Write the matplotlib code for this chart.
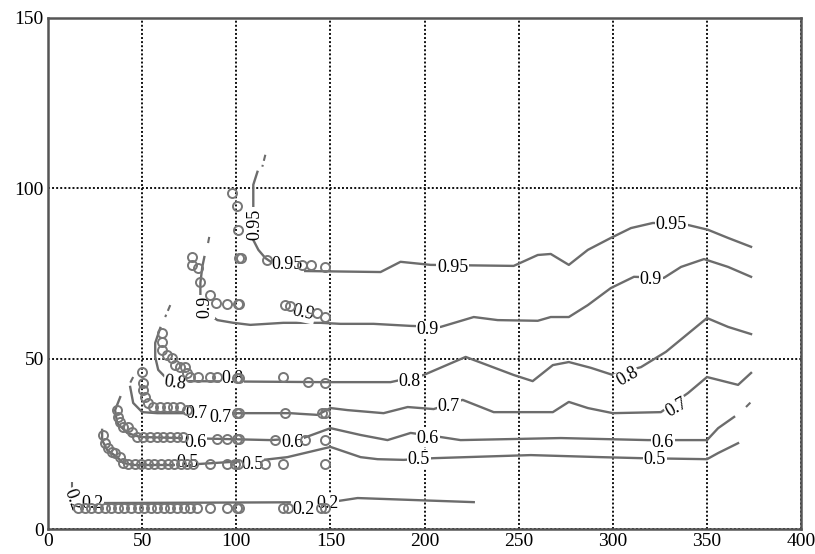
import matplotlib.pyplot as plt

plt.rcParams['font.family'] = ['Liberation Serif', 'DejaVu Serif']

# contour lines (x, y)
c95_x = [111.2, 109.0, 109.0, 111.7, 115.4, 120.7, 135.6, 176.6, 187.2, 203.2, 247.3, 260.1, 267.0,
         276.6, 286.7, 298.9, 309.6, 321.3, 339.9, 350.5, 361.2, 373.4]
c95_y = [104.8, 101.0, 84.8, 81.9, 79.5, 77.5, 75.7, 75.4, 78.4, 77.5, 77.2, 80.4, 80.7,
         77.5, 81.9, 85.4, 88.3, 89.8, 89.2, 87.8, 85.4, 82.8]
c95_top_x = [115.4, 113.8]
c95_top_y = [109.8, 106.3]

c90_x = [83.0, 81.9, 80.9, 80.9, 84.6, 89.9, 98.4, 107.4, 125.0, 144.7, 155.3, 172.9, 192.6, 208.5,
         226.1, 238.8, 260.1, 267.0, 276.6, 286.7, 298.9, 311.2, 327.1, 336.2, 348.4, 361.2, 373.4]
c90_y = [79.8, 76.9, 72.2, 67.2, 63.4, 61.3, 60.5, 59.9, 60.5, 60.5, 60.2, 60.2, 59.6, 59.3,
         62.2, 61.3, 61.1, 62.2, 62.2, 65.7, 70.7, 74.0, 73.7, 76.9, 79.2, 76.9, 74.0]
c90_top_x = [85.6, 84.6]
c90_top_y = [85.7, 82.8]

c80_x = [59.6, 56.9, 56.9, 58.5, 62.2, 73.9, 146.3, 181.9, 199.5, 221.8, 247.3, 257.4, 268.1,
         276.6, 288.3, 300.0, 314.9, 328.2, 350.0, 361.2, 373.4]
c80_y = [59.0, 54.6, 50.5, 46.7, 44.6, 43.4, 43.1, 43.1, 45.2, 50.5, 45.2, 43.4, 48.1,
         49.0, 47.3, 45.2, 47.5, 52.0, 61.9, 59.3, 57.2]
c80_top_x = [64.9, 62.2]
c80_top_y = [65.7, 62.2]

c70_x = [43.6, 45.2, 50.0, 58.0, 128.7, 134.0, 143.1, 150.0, 159.0, 178.2, 191.0, 204.8, 220.2,
         236.7, 268.1, 276.6, 286.7, 300.0, 325.5, 339.9, 350.0, 366.5, 373.4]
c70_y = [41.7, 37.0, 34.3, 34.0, 34.0, 33.8, 33.5, 35.5, 34.9, 34.0, 35.8, 35.2, 37.9,
         34.3, 34.3, 37.3, 35.5, 34.0, 34.3, 39.9, 44.6, 42.3, 45.8]
c70_top_x = [45.2, 43.6]
c70_top_y = [44.6, 42.9]

c60_x = [38.3, 35.6, 36.7, 42.0, 48.9, 71.8, 118.1, 135.6, 150.0, 166.0, 180.3, 192.6, 208.5,
         219.1, 272.3, 318.6, 350.0, 355.9, 364.4]
c60_y = [38.7, 34.9, 31.1, 28.2, 27.0, 26.7, 26.1, 26.7, 29.6, 27.6, 26.1, 28.2, 27.0,
         26.1, 26.7, 26.1, 26.1, 29.6, 32.9]
c60_top_x = [370.7, 373.4]
c60_top_y = [35.8, 37.3]

c50_x = [28.7, 28.7, 31.4, 36.7, 39.9, 45.2, 71.8, 114.4, 127.1, 150.0, 166.0, 175.0, 188.8,
         204.8, 256.4, 293.6, 314.9, 350.0, 355.9, 366.5]
c50_y = [29.1, 26.1, 23.2, 21.1, 19.4, 18.8, 18.8, 20.3, 21.1, 24.1, 21.1, 20.5, 20.3,
         20.8, 21.7, 21.1, 20.8, 20.5, 22.3, 25.2]

c20_x = [14.4, 150.0, 164.4, 226.1]
c20_y = [7.6, 7.9, 9.1, 7.9]
c20_top_x = [12.8, 12.8]
c20_top_y = [13.8, 11.4]

# circle markers
circ_x = [97.9, 100.5, 101.1, 101.6, 102.4, 116.5, 135.1, 139.4, 147.3,
          76.6, 76.6, 79.8, 80.9, 86.2, 89.4, 95.2, 100.8, 101.6, 126.1, 128.7, 143.1, 147.3,
          60.6, 60.6, 60.6, 63.3, 66.0, 67.6, 70.2, 72.9, 73.9, 75.5, 79.8, 86.2, 89.9, 100.5,
          101.4, 125.0, 138.3, 147.3,
          50.0, 50.5, 50.5, 51.6, 53.2, 55.9, 59.6, 63.3, 66.5, 70.2, 73.9, 100.6, 101.6,
          126.1, 145.7, 147.3,
          36.7, 37.2, 38.3, 39.9, 42.6, 44.7, 47.3, 50.5, 54.3, 58.0, 61.2, 64.9, 68.6, 71.8,
          89.9, 95.2, 100.6, 101.6, 120.7, 136.7, 147.3,
          29.3, 30.3, 31.9, 34.0, 35.6, 38.3, 39.9, 42.6, 46.0, 49.5, 53.0, 56.5, 60.0, 63.5,
          67.0, 70.5, 74.0, 77.1, 86.2, 95.2, 99.5, 101.1, 115.4, 125.0, 147.3,
          16.0, 19.5, 23.0, 26.5, 30.0, 33.5, 37.0, 40.5, 44.0, 47.5, 51.0, 54.5, 58.0, 61.5,
          65.0, 68.5, 72.0, 75.5, 79.0, 86.2, 95.2, 100.5, 101.6, 125.0, 127.7, 144.7, 147.3]
circ_y = [98.6, 94.8, 87.8, 79.5, 79.5, 79.0, 77.5, 77.5, 76.9,
          79.8, 77.5, 76.6, 72.5, 68.7, 66.3, 66.0, 66.0, 66.0, 65.7, 65.5, 63.4, 62.2,
          57.5, 54.9, 52.5, 51.1, 50.2, 48.1, 47.5, 47.5, 45.8, 44.6, 44.6, 44.6, 44.6, 44.3,
          44.3, 44.6, 43.1, 42.9,
          46.1, 42.9, 40.8, 38.7, 37.0, 35.8, 35.8, 35.8, 35.8, 35.8, 34.9, 34.0, 34.0,
          34.0, 34.0, 34.0,
          34.9, 32.9, 31.4, 30.0, 30.0, 28.5, 27.0, 27.0, 27.0, 27.0, 27.0, 27.0, 27.0, 27.0,
          26.4, 26.4, 26.4, 26.4, 26.1, 26.1, 26.1,
          27.6, 25.2, 23.8, 22.6, 22.3, 21.1, 19.4, 19.1, 19.1, 19.1, 19.1, 19.1, 19.1, 19.1,
          19.1, 19.1, 19.1, 19.1, 19.1, 19.1, 19.1, 19.1, 19.1, 19.1, 19.1,
          6.2, 6.2, 6.2, 6.2, 6.2, 6.2, 6.2, 6.2, 6.2, 6.2, 6.2, 6.2, 6.2, 6.2,
          6.2, 6.2, 6.2, 6.2, 6.2, 6.2, 6.2, 6.2, 6.2, 6.2, 6.2, 6.2, 6.2]

# contour labels: text, x, y, rotation
lab_text = ['0.95', '0.95', '0.95', '0.95',
            '0.9', '0.9', '0.9', '0.9',
            '0.8', '0.8', '0.8', '0.8',
            '0.7', '0.7', '0.7', '0.7',
            '0.6', '0.6', '0.6', '0.6',
            '0.5', '0.5', '0.5', '0.5',
            '0.2', '0.2', '0.2', '0.2']
lab_x = [110.1, 127.1, 214.9, 330.9,
         83.5, 135.6, 201.6, 320.2,
         67.6, 97.9, 192.0, 308.0,
         79.0, 91.5, 212.8, 334.0,
         78.2, 129.8, 201.6, 326.6,
         73.9, 108.5, 196.8, 322.3,
         12.8, 23.4, 135.6, 148.4]
lab_y = [89.5, 77.5, 76.6, 89.2,
         65.2, 63.4, 58.4, 73.1,
         42.9, 44.3, 43.4, 44.6,
         34.0, 32.6, 36.1, 35.5,
         25.5, 25.5, 26.7, 25.5,
         19.4, 18.8, 20.3, 20.3,
         8.5, 7.6, 5.6, 7.6]
lab_rot = [90, 0, 0, 0,
           90, -12, 0, 0,
           -8, 0, 0, 30,
           0, 0, 0, 30,
           0, 0, 0, 0,
           0, 0, 0, 0,
           -70, 0, 0, 0]

line_color = '#6c6c6c'
fig, ax = plt.subplots(figsize=(8.15, 5.54), dpi=100)
fig.subplots_adjust(left=0.059, right=0.983, bottom=0.045, top=0.968)

curves = [(c95_x, c95_y), (c90_x, c90_y), (c80_x, c80_y), (c70_x, c70_y),
          (c60_x, c60_y), (c50_x, c50_y), (c20_x, c20_y)]
for xs, ys in curves:
    ax.plot(xs, ys, color=line_color, lw=1.7, zorder=2)

frags = [(c95_top_x, c95_top_y), (c90_top_x, c90_top_y), (c80_top_x, c80_top_y),
         (c70_top_x, c70_top_y), (c60_top_x, c60_top_y), (c20_top_x, c20_top_y)]
for xs, ys in frags:
    ax.plot(xs, ys, color=line_color, lw=1.5, ls=(0, (3, 2)), zorder=2)

for t, x, y, r in zip(lab_text, lab_x, lab_y, lab_rot):
    ax.text(x, y, t, fontsize=13, rotation=r, ha='center', va='center', zorder=3,
            rotation_mode='anchor',
            bbox=dict(boxstyle='square,pad=0.05', fc='white', ec='none'))

ax.plot(circ_x, circ_y, 'o', mfc='none', mec='#777777', ms=6.5, mew=1.4, zorder=4)

ax.set_xlim(0, 400)
ax.set_ylim(0, 150)
ax.set_xticks([0, 50, 100, 150, 200, 250, 300, 350, 400])
ax.set_yticks([0, 50, 100, 150])
ax.grid(True, color='#111111', ls=(0, (1, 1.1)), lw=1.4)
ax.set_axisbelow(True)
ax.tick_params(length=0, labelsize=14, pad=3)
for s in ax.spines.values():
    s.set_color('#555555')
    s.set_linewidth(1.8)

plt.savefig('out.png')
